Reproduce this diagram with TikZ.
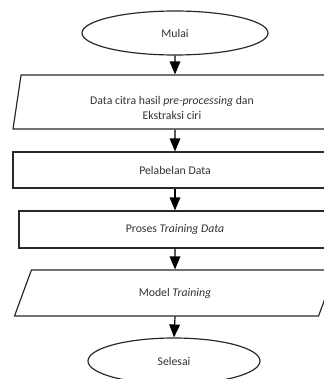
\documentclass[tikz,border=0pt]{standalone}
\usepackage{fontspec}
\setmainfont{Carlito}
\definecolor{lineGray}{RGB}{40, 40, 40}
\definecolor{textGray}{RGB}{50, 50, 50}
\usepackage{tikz}
\usetikzlibrary{shapes,arrows,positioning,calc,arrows.meta}

\begin{document}
\begin{tikzpicture}[x=0.85pt,y=-0.85pt,
    terminal/.style={draw=lineGray,line width=1pt,ellipse,inner sep=0pt,font=\fontsize{10}{12}\selectfont,text=textGray},
    iobox/.style={draw=lineGray,line width=1pt,trapezium,trapezium left angle=73.5,trapezium right angle=106.5,trapezium stretches=true,inner sep=2pt,font=\fontsize{10}{12}\selectfont,text=textGray},
    procbox/.style={draw=lineGray,line width=1pt,rectangle,inner sep=0pt,font=\fontsize{10}{12}\selectfont,text=textGray},
    flowtext/.style={font=\fontsize{10}{12.75}\selectfont,text=textGray,align=center,inner sep=0pt},
    flowarrow/.style={draw=black,line width=1pt,-{Triangle[width=9pt,length=11pt]}}]
                \useasboundingbox (0,0) rectangle (324,379);
                \clip (0,0) rectangle (324,379);
                % Mulai
                \node[terminal,minimum width=186*0.85pt,minimum height=44*0.85pt] (mulai) at (175,33) {Mulai};
                % Data citra hasil pre-processing
                \node[iobox,minimum width=324*0.85pt,minimum height=54*0.85pt] (data) at (175,102) {\phantom{Data citra hasil pre-processing dan}};
                \node[flowtext] (datatext) at (172,107.5) {Data citra hasil \textit{pre-processing} dan\\Ekstraksi ciri};
                % Pelabelan Data
                \node[procbox,minimum width=324*0.85pt,minimum height=36*0.85pt] (label) at (175,170) {Pelabelan Data};
                % Proses Training Data
                \node[procbox,minimum width=312*0.85pt,minimum height=37*0.85pt] (train) at (175,229.5) {Proses \textit{Training Data}};
                % Model Training
                \node[iobox,trapezium left angle=73,trapezium right angle=107,minimum width=322*0.85pt,minimum height=46*0.85pt] (model) at (175,293) {Model \textit{Training}};
                % Selesai
                \node[terminal,minimum width=172*0.85pt,minimum height=46*0.85pt] (selesai) at (174,361) {Selesai};
                % arrows
                \draw[flowarrow] (mulai.south) -- (data.north);
                \draw[flowarrow] (data.south) -- (label.north);
                \draw[flowarrow] (label.south) -- (train.north);
                \draw[flowarrow] (train.south) -- (model.north);
                \draw[flowarrow] (model.south) -- (selesai.north);
            \end{tikzpicture}
\end{document}
